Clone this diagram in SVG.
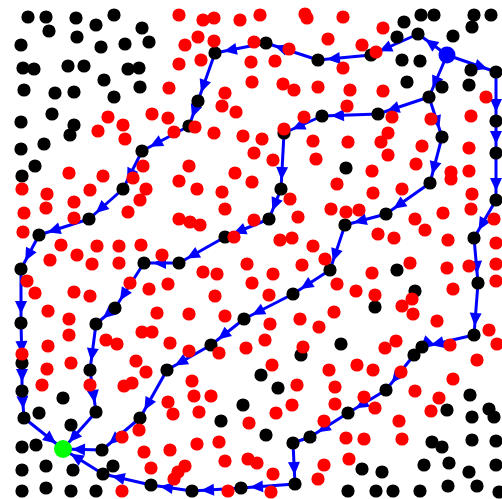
<svg xmlns="http://www.w3.org/2000/svg" width="502" height="499" viewBox="0 0 502 499">
<defs>
<style>
.e{stroke:#0000ff;stroke-width:3;fill:none;marker-end:url(#ah)}
.r{fill:#ff0000}
.k{fill:#000000}
.k circle,.r circle{r:6.6px}
</style>
<marker id="ah" markerUnits="userSpaceOnUse" markerWidth="30" markerHeight="30" refX="9" refY="0" orient="auto" overflow="visible">
<path d="M0,0 L-13,-6 L-13,6 Z" fill="#0000ff"/>
</marker>
</defs>
<rect width="502" height="499" fill="#ffffff"/>
<g id="connectors">
<path class="e" d="M447 55L418 34"/><path class="e" d="M418 34L371 55"/><path class="e" d="M371 55L318 60"/><path class="e" d="M318 60L266 43"/><path class="e" d="M266 43L215 53"/><path class="e" d="M215 53L198 101"/><path class="e" d="M198 101L189 126"/><path class="e" d="M189 126L142 151"/><path class="e" d="M142 151L123 189"/><path class="e" d="M123 189L89 219"/><path class="e" d="M89 219L39 235"/><path class="e" d="M39 235L21 269"/><path class="e" d="M21 269L21 323"/><path class="e" d="M21 323L22 363"/><path class="e" d="M22 363L22 391"/><path class="e" d="M22 391L24 418"/><path class="e" d="M24 418L63 449"/>
<path class="e" d="M447 55L429 97"/><path class="e" d="M429 97L378 114"/><path class="e" d="M378 114L322 116"/><path class="e" d="M322 116L284 133"/><path class="e" d="M284 133L281 189"/><path class="e" d="M281 189L269 219"/><path class="e" d="M269 219L225 237"/><path class="e" d="M225 237L179 263"/><path class="e" d="M179 263L144 263"/><path class="e" d="M144 263L115 308"/><path class="e" d="M115 308L96 324"/><path class="e" d="M96 324L90 370"/><path class="e" d="M90 370L96 412"/><path class="e" d="M96 412L63 449"/>
<path class="e" d="M429 97L442 137"/><path class="e" d="M442 137L430 183"/><path class="e" d="M430 183L386 214"/><path class="e" d="M386 214L345 225"/><path class="e" d="M345 225L330 270"/><path class="e" d="M330 270L293 294"/><path class="e" d="M293 294L244 319"/><path class="e" d="M244 319L211 345"/><path class="e" d="M211 345L167 370"/><path class="e" d="M167 370L140 418"/><path class="e" d="M140 418L102 450"/><path class="e" d="M102 450L63 449"/>
<path class="e" d="M447 55L496 72"/><path class="e" d="M496 72L496 121"/><path class="e" d="M496 121L496 153"/><path class="e" d="M496 153L496 200"/><path class="e" d="M496 200L474 238"/><path class="e" d="M474 238L478 283"/><path class="e" d="M478 283L474 335"/><path class="e" d="M474 335L422 347"/><path class="e" d="M422 347L414 355"/><path class="e" d="M414 355L386 390"/><path class="e" d="M386 390L348 413"/><path class="e" d="M348 413L310 437"/><path class="e" d="M310 437L293 443"/><path class="e" d="M293 443L295 484"/><path class="e" d="M295 484L241 488"/><path class="e" d="M241 488L192 491"/><path class="e" d="M192 491L151 485"/><path class="e" d="M151 485L103 474"/><path class="e" d="M103 474L63 449"/>
</g>
<g id="black-points" class="k">
<circle cx="28" cy="17" r="6.6"/><circle cx="46" cy="17" r="6.6"/><circle cx="49" cy="31" r="6.6"/><circle cx="76" cy="18" r="6.6"/><circle cx="77" cy="37" r="6.6"/><circle cx="96" cy="25" r="6.6"/><circle cx="114" cy="15" r="6.6"/><circle cx="142" cy="28" r="6.6"/><circle cx="149" cy="42" r="6.6"/><circle cx="125" cy="44" r="6.6"/><circle cx="101" cy="47" r="6.6"/><circle cx="21" cy="45" r="6.6"/><circle cx="23" cy="68" r="6.6"/><circle cx="34" cy="69" r="6.6"/><circle cx="68" cy="66" r="6.6"/><circle cx="84" cy="66" r="6.6"/><circle cx="128" cy="69" r="6.6"/><circle cx="139" cy="68" r="6.6"/><circle cx="104" cy="80" r="6.6"/><circle cx="24" cy="90" r="6.6"/><circle cx="55" cy="93" r="6.6"/><circle cx="74" cy="92" r="6.6"/><circle cx="114" cy="97" r="6.6"/><circle cx="140" cy="87" r="6.6"/><circle cx="52" cy="114" r="6.6"/><circle cx="21" cy="122" r="6.6"/><circle cx="74" cy="125" r="6.6"/><circle cx="70" cy="135" r="6.6"/><circle cx="21" cy="149" r="6.6"/><circle cx="44" cy="144" r="6.6"/><circle cx="35" cy="166" r="6.6"/><circle cx="22" cy="176" r="6.6"/>
<circle cx="421" cy="15" r="6.6"/><circle cx="434" cy="15" r="6.6"/><circle cx="474" cy="15" r="6.6"/><circle cx="491" cy="15" r="6.6"/><circle cx="404" cy="22" r="6.6"/><circle cx="472" cy="27" r="6.6"/><circle cx="397" cy="37" r="6.6"/><circle cx="453" cy="36" r="6.6"/><circle cx="402" cy="60" r="6.6"/><circle cx="420" cy="61" r="6.6"/><circle cx="471" cy="70" r="6.6"/><circle cx="407" cy="82" r="6.6"/><circle cx="442" cy="87" r="6.6"/><circle cx="469" cy="85" r="6.6"/><circle cx="346" cy="168" r="6.6"/>
<circle cx="397" cy="270" r="6.6"/><circle cx="415" cy="291" r="6.6"/><circle cx="375" cy="307" r="6.6"/>
<circle cx="39" cy="413" r="6.6"/><circle cx="63" cy="398" r="6.6"/><circle cx="71" cy="425" r="6.6"/><circle cx="22" cy="447" r="6.6"/><circle cx="36" cy="445" r="6.6"/><circle cx="22" cy="470" r="6.6"/><circle cx="46" cy="466" r="6.6"/><circle cx="73" cy="470" r="6.6"/><circle cx="113" cy="466" r="6.6"/><circle cx="22" cy="491" r="6.6"/><circle cx="46" cy="488" r="6.6"/><circle cx="71" cy="491" r="6.6"/><circle cx="96" cy="491" r="6.6"/>
<circle cx="301" cy="355" r="6.6"/><circle cx="261" cy="375" r="6.6"/><circle cx="278" cy="388" r="6.6"/><circle cx="243" cy="405" r="6.6"/><circle cx="221" cy="421" r="6.6"/><circle cx="266" cy="435" r="6.6"/>
<circle cx="341" cy="344" r="6.6"/><circle cx="470" cy="395" r="6.6"/><circle cx="447" cy="410" r="6.6"/><circle cx="472" cy="417" r="6.6"/><circle cx="489" cy="409" r="6.6"/><circle cx="494" cy="417" r="6.6"/><circle cx="432" cy="442" r="6.6"/><circle cx="442" cy="447" r="6.6"/><circle cx="472" cy="440" r="6.6"/><circle cx="496" cy="441" r="6.6"/><circle cx="424" cy="465" r="6.6"/><circle cx="449" cy="463" r="6.6"/><circle cx="469" cy="472" r="6.6"/><circle cx="362" cy="469" r="6.6"/><circle cx="382" cy="472" r="6.6"/><circle cx="496" cy="465" r="6.6"/><circle cx="348" cy="491" r="6.6"/><circle cx="376" cy="491" r="6.6"/><circle cx="393" cy="491" r="6.6"/><circle cx="420" cy="491" r="6.6"/><circle cx="448" cy="486" r="6.6"/><circle cx="477" cy="486" r="6.6"/><circle cx="499" cy="492" r="6.6"/>
</g>
<g id="path-nodes" class="k">
<g id="n418_34"><circle cx="418" cy="34" r="6.6"/></g><g id="n371_55"><circle cx="371" cy="55" r="6.6"/></g><g id="n318_60"><circle cx="318" cy="60" r="6.6"/></g><g id="n266_43"><circle cx="266" cy="43" r="6.6"/></g><g id="n215_53"><circle cx="215" cy="53" r="6.6"/></g><g id="n198_101"><circle cx="198" cy="101" r="6.6"/></g><g id="n189_126"><circle cx="189" cy="126" r="6.6"/></g><g id="n142_151"><circle cx="142" cy="151" r="6.6"/></g><g id="n123_189"><circle cx="123" cy="189" r="6.6"/></g><g id="n89_219"><circle cx="89" cy="219" r="6.6"/></g><g id="n39_235"><circle cx="39" cy="235" r="6.6"/></g><g id="n21_269"><circle cx="21" cy="269" r="6.6"/></g><g id="n21_323"><circle cx="21" cy="323" r="6.6"/></g><g id="n22_363"><circle cx="22" cy="363" r="6.6"/></g><g id="n22_391"><circle cx="22" cy="391" r="6.6"/></g><g id="n24_418"><circle cx="24" cy="418" r="6.6"/></g>
<g id="n429_97"><circle cx="429" cy="97" r="6.6"/></g><g id="n378_114"><circle cx="378" cy="114" r="6.6"/></g><g id="n322_116"><circle cx="322" cy="116" r="6.6"/></g><g id="n284_133"><circle cx="284" cy="133" r="6.6"/></g><g id="n281_189"><circle cx="281" cy="189" r="6.6"/></g><g id="n269_219"><circle cx="269" cy="219" r="6.6"/></g><g id="n225_237"><circle cx="225" cy="237" r="6.6"/></g><g id="n179_263"><circle cx="179" cy="263" r="6.6"/></g><g id="n144_263"><circle cx="144" cy="263" r="6.6"/></g><g id="n115_308"><circle cx="115" cy="308" r="6.6"/></g><g id="n96_324"><circle cx="96" cy="324" r="6.6"/></g><g id="n90_370"><circle cx="90" cy="370" r="6.6"/></g><g id="n96_412"><circle cx="96" cy="412" r="6.6"/></g>
<g id="n442_137"><circle cx="442" cy="137" r="6.6"/></g><g id="n430_183"><circle cx="430" cy="183" r="6.6"/></g><g id="n386_214"><circle cx="386" cy="214" r="6.6"/></g><g id="n345_225"><circle cx="345" cy="225" r="6.6"/></g><g id="n330_270"><circle cx="330" cy="270" r="6.6"/></g><g id="n293_294"><circle cx="293" cy="294" r="6.6"/></g><g id="n244_319"><circle cx="244" cy="319" r="6.6"/></g><g id="n211_345"><circle cx="211" cy="345" r="6.6"/></g><g id="n167_370"><circle cx="167" cy="370" r="6.6"/></g><g id="n140_418"><circle cx="140" cy="418" r="6.6"/></g><g id="n102_450"><circle cx="102" cy="450" r="6.6"/></g>
<g id="n496_72"><circle cx="496" cy="72" r="6.6"/></g><g id="n496_121"><circle cx="496" cy="121" r="6.6"/></g><g id="n496_153"><circle cx="496" cy="153" r="6.6"/></g><g id="n496_200"><circle cx="496" cy="200" r="6.6"/></g><g id="n474_238"><circle cx="474" cy="238" r="6.6"/></g><g id="n478_283"><circle cx="478" cy="283" r="6.6"/></g><g id="n474_335"><circle cx="474" cy="335" r="6.6"/></g><g id="n422_347"><circle cx="422" cy="347" r="6.6"/></g><g id="n414_355"><circle cx="414" cy="355" r="6.6"/></g><g id="n386_390"><circle cx="386" cy="390" r="6.6"/></g><g id="n348_413"><circle cx="348" cy="413" r="6.6"/></g><g id="n310_437"><circle cx="310" cy="437" r="6.6"/></g><g id="n293_443"><circle cx="293" cy="443" r="6.6"/></g><g id="n295_484"><circle cx="295" cy="484" r="6.6"/></g><g id="n241_488"><circle cx="241" cy="488" r="6.6"/></g><g id="n192_491"><circle cx="192" cy="491" r="6.6"/></g><g id="n151_485"><circle cx="151" cy="485" r="6.6"/></g><g id="n103_474"><circle cx="103" cy="474" r="6.6"/></g>
</g>
<g id="red-points" class="r">
<circle cx="22" cy="354" r="6.6"/>
<circle cx="108" cy="117" r="6.6"/><circle cx="98" cy="131" r="6.6"/><circle cx="123" cy="125" r="6.6"/><circle cx="125" cy="139" r="6.6"/><circle cx="152" cy="114" r="6.6"/><circle cx="169" cy="88" r="6.6"/><circle cx="168" cy="118" r="6.6"/><circle cx="143" cy="166" r="6.6"/>
<circle cx="179" cy="15" r="6.6"/><circle cx="203" cy="20" r="6.6"/><circle cx="214" cy="18" r="6.6"/><circle cx="240" cy="20" r="6.6"/><circle cx="260" cy="15" r="6.6"/><circle cx="305" cy="14" r="6.6"/><circle cx="307" cy="18" r="6.6"/><circle cx="198" cy="37" r="6.6"/><circle cx="185" cy="45" r="6.6"/><circle cx="214" cy="41" r="6.6"/><circle cx="254" cy="42" r="6.6"/><circle cx="289" cy="49" r="6.6"/><circle cx="328" cy="39" r="6.6"/><circle cx="179" cy="64" r="6.6"/><circle cx="201" cy="60" r="6.6"/><circle cx="251" cy="62" r="6.6"/><circle cx="275" cy="61" r="6.6"/><circle cx="252" cy="82" r="6.6"/><circle cx="283" cy="84" r="6.6"/><circle cx="294" cy="90" r="6.6"/><circle cx="318" cy="87" r="6.6"/><circle cx="225" cy="93" r="6.6"/><circle cx="222" cy="106" r="6.6"/><circle cx="236" cy="112" r="6.6"/><circle cx="195" cy="127" r="6.6"/><circle cx="174" cy="132" r="6.6"/><circle cx="214" cy="133" r="6.6"/><circle cx="243" cy="136" r="6.6"/><circle cx="262" cy="139" r="6.6"/><circle cx="284" cy="129" r="6.6"/><circle cx="304" cy="117" r="6.6"/><circle cx="313" cy="141" r="6.6"/><circle cx="254" cy="153" r="6.6"/><circle cx="273" cy="160" r="6.6"/><circle cx="316" cy="159" r="6.6"/><circle cx="189" cy="166" r="6.6"/>
<circle cx="343" cy="17" r="6.6"/><circle cx="383" cy="28" r="6.6"/><circle cx="362" cy="45" r="6.6"/><circle cx="376" cy="52" r="6.6"/><circle cx="343" cy="68" r="6.6"/><circle cx="350" cy="90" r="6.6"/><circle cx="383" cy="91" r="6.6"/><circle cx="347" cy="106" r="6.6"/><circle cx="486" cy="97" r="6.6"/><circle cx="392" cy="117" r="6.6"/><circle cx="431" cy="119" r="6.6"/><circle cx="471" cy="116" r="6.6"/><circle cx="388" cy="133" r="6.6"/><circle cx="381" cy="142" r="6.6"/><circle cx="348" cy="142" r="6.6"/><circle cx="422" cy="146" r="6.6"/><circle cx="469" cy="148" r="6.6"/><circle cx="388" cy="155" r="6.6"/><circle cx="416" cy="164" r="6.6"/><circle cx="372" cy="171" r="6.6"/>
<circle cx="69" cy="173" r="6.6"/><circle cx="103" cy="176" r="6.6"/><circle cx="133" cy="178" r="6.6"/><circle cx="146" cy="189" r="6.6"/><circle cx="22" cy="189" r="6.6"/><circle cx="47" cy="194" r="6.6"/><circle cx="90" cy="190" r="6.6"/><circle cx="74" cy="202" r="6.6"/><circle cx="140" cy="200" r="6.6"/><circle cx="24" cy="213" r="6.6"/><circle cx="46" cy="208" r="6.6"/><circle cx="74" cy="218" r="6.6"/><circle cx="128" cy="212" r="6.6"/><circle cx="23" cy="232" r="6.6"/><circle cx="61" cy="245" r="6.6"/><circle cx="97" cy="246" r="6.6"/><circle cx="119" cy="246" r="6.6"/><circle cx="141" cy="245" r="6.6"/><circle cx="162" cy="255" r="6.6"/><circle cx="50" cy="260" r="6.6"/><circle cx="77" cy="255" r="6.6"/><circle cx="92" cy="264" r="6.6"/><circle cx="119" cy="263" r="6.6"/><circle cx="27" cy="281" r="6.6"/><circle cx="35" cy="293" r="6.6"/><circle cx="74" cy="292" r="6.6"/><circle cx="90" cy="296" r="6.6"/><circle cx="130" cy="283" r="6.6"/><circle cx="149" cy="289" r="6.6"/><circle cx="168" cy="284" r="6.6"/><circle cx="48" cy="311" r="6.6"/><circle cx="69" cy="319" r="6.6"/><circle cx="157" cy="313" r="6.6"/><circle cx="142" cy="332" r="6.6"/><circle cx="152" cy="332" r="6.6"/><circle cx="69" cy="335" r="6.6"/>
<circle cx="235" cy="173" r="6.6"/><circle cx="252" cy="182" r="6.6"/><circle cx="179" cy="181" r="6.6"/><circle cx="197" cy="189" r="6.6"/><circle cx="222" cy="192" r="6.6"/><circle cx="225" cy="209" r="6.6"/><circle cx="290" cy="199" r="6.6"/><circle cx="298" cy="217" r="6.6"/><circle cx="331" cy="209" r="6.6"/><circle cx="179" cy="219" r="6.6"/><circle cx="190" cy="222" r="6.6"/><circle cx="200" cy="225" r="6.6"/><circle cx="254" cy="220" r="6.6"/><circle cx="234" cy="237" r="6.6"/><circle cx="280" cy="240" r="6.6"/><circle cx="292" cy="238" r="6.6"/><circle cx="313" cy="246" r="6.6"/><circle cx="325" cy="259" r="6.6"/><circle cx="247" cy="264" r="6.6"/><circle cx="302" cy="265" r="6.6"/><circle cx="203" cy="272" r="6.6"/><circle cx="217" cy="274" r="6.6"/><circle cx="273" cy="274" r="6.6"/><circle cx="252" cy="283" r="6.6"/><circle cx="215" cy="296" r="6.6"/><circle cx="269" cy="295" r="6.6"/><circle cx="189" cy="314" r="6.6"/><circle cx="225" cy="316" r="6.6"/><circle cx="270" cy="324" r="6.6"/><circle cx="300" cy="319" r="6.6"/><circle cx="319" cy="327" r="6.6"/><circle cx="334" cy="312" r="6.6"/>
<circle cx="451" cy="172" r="6.6"/><circle cx="451" cy="179" r="6.6"/><circle cx="469" cy="171" r="6.6"/><circle cx="337" cy="184" r="6.6"/><circle cx="402" cy="189" r="6.6"/><circle cx="373" cy="193" r="6.6"/><circle cx="472" cy="194" r="6.6"/><circle cx="346" cy="212" r="6.6"/><circle cx="359" cy="210" r="6.6"/><circle cx="443" cy="213" r="6.6"/><circle cx="471" cy="209" r="6.6"/><circle cx="415" cy="219" r="6.6"/><circle cx="425" cy="230" r="6.6"/><circle cx="494" cy="219" r="6.6"/><circle cx="378" cy="234" r="6.6"/><circle cx="394" cy="238" r="6.6"/><circle cx="448" cy="240" r="6.6"/><circle cx="496" cy="243" r="6.6"/><circle cx="410" cy="263" r="6.6"/><circle cx="447" cy="268" r="6.6"/><circle cx="469" cy="266" r="6.6"/><circle cx="496" cy="264" r="6.6"/><circle cx="372" cy="273" r="6.6"/><circle cx="337" cy="284" r="6.6"/><circle cx="356" cy="291" r="6.6"/><circle cx="375" cy="295" r="6.6"/><circle cx="412" cy="299" r="6.6"/><circle cx="453" cy="289" r="6.6"/><circle cx="496" cy="281" r="6.6"/><circle cx="402" cy="306" r="6.6"/><circle cx="413" cy="314" r="6.6"/><circle cx="437" cy="321" r="6.6"/><circle cx="489" cy="330" r="6.6"/>
<circle cx="48" cy="346" r="6.6"/><circle cx="106" cy="340" r="6.6"/><circle cx="117" cy="344" r="6.6"/><circle cx="47" cy="369" r="6.6"/><circle cx="71" cy="363" r="6.6"/><circle cx="136" cy="361" r="6.6"/><circle cx="146" cy="372" r="6.6"/><circle cx="42" cy="385" r="6.6"/><circle cx="90" cy="385" r="6.6"/><circle cx="124" cy="386" r="6.6"/><circle cx="132" cy="383" r="6.6"/><circle cx="168" cy="402" r="6.6"/><circle cx="139" cy="430" r="6.6"/><circle cx="122" cy="437" r="6.6"/><circle cx="144" cy="452" r="6.6"/><circle cx="151" cy="468" r="6.6"/><circle cx="122" cy="491" r="6.6"/><circle cx="170" cy="450" r="6.6"/>
<circle cx="170" cy="343" r="6.6"/><circle cx="189" cy="351" r="6.6"/><circle cx="219" cy="353" r="6.6"/><circle cx="246" cy="348" r="6.6"/><circle cx="265" cy="340" r="6.6"/><circle cx="303" cy="347" r="6.6"/><circle cx="272" cy="365" r="6.6"/><circle cx="192" cy="381" r="6.6"/><circle cx="194" cy="396" r="6.6"/><circle cx="211" cy="396" r="6.6"/><circle cx="297" cy="385" r="6.6"/><circle cx="329" cy="370" r="6.6"/><circle cx="335" cy="387" r="6.6"/><circle cx="173" cy="414" r="6.6"/><circle cx="199" cy="412" r="6.6"/><circle cx="276" cy="413" r="6.6"/><circle cx="292" cy="405" r="6.6"/><circle cx="249" cy="423" r="6.6"/><circle cx="324" cy="421" r="6.6"/><circle cx="197" cy="444" r="6.6"/><circle cx="219" cy="442" r="6.6"/><circle cx="225" cy="461" r="6.6"/><circle cx="248" cy="459" r="6.6"/><circle cx="257" cy="463" r="6.6"/><circle cx="185" cy="466" r="6.6"/><circle cx="178" cy="472" r="6.6"/><circle cx="174" cy="479" r="6.6"/><circle cx="273" cy="474" r="6.6"/><circle cx="324" cy="465" r="6.6"/><circle cx="318" cy="479" r="6.6"/><circle cx="335" cy="404" r="6.6"/><circle cx="228" cy="491" r="6.6"/><circle cx="271" cy="492" r="6.6"/>
<circle cx="396" cy="341" r="6.6"/><circle cx="385" cy="348" r="6.6"/><circle cx="450" cy="345" r="6.6"/><circle cx="497" cy="344" r="6.6"/><circle cx="477" cy="360" r="6.6"/><circle cx="357" cy="365" r="6.6"/><circle cx="373" cy="370" r="6.6"/><circle cx="401" cy="372" r="6.6"/><circle cx="453" cy="379" r="6.6"/><circle cx="415" cy="391" r="6.6"/><circle cx="364" cy="397" r="6.6"/><circle cx="439" cy="398" r="6.6"/><circle cx="375" cy="408" r="6.6"/><circle cx="431" cy="411" r="6.6"/><circle cx="399" cy="421" r="6.6"/><circle cx="346" cy="438" r="6.6"/><circle cx="364" cy="439" r="6.6"/><circle cx="402" cy="439" r="6.6"/><circle cx="349" cy="459" r="6.6"/>
</g>
<g id="source"><circle cx="447" cy="55" r="8.5" fill="#0000ff"/></g>
<g id="target"><circle cx="63" cy="449" r="9" fill="#00ff00"/></g>
</svg>
